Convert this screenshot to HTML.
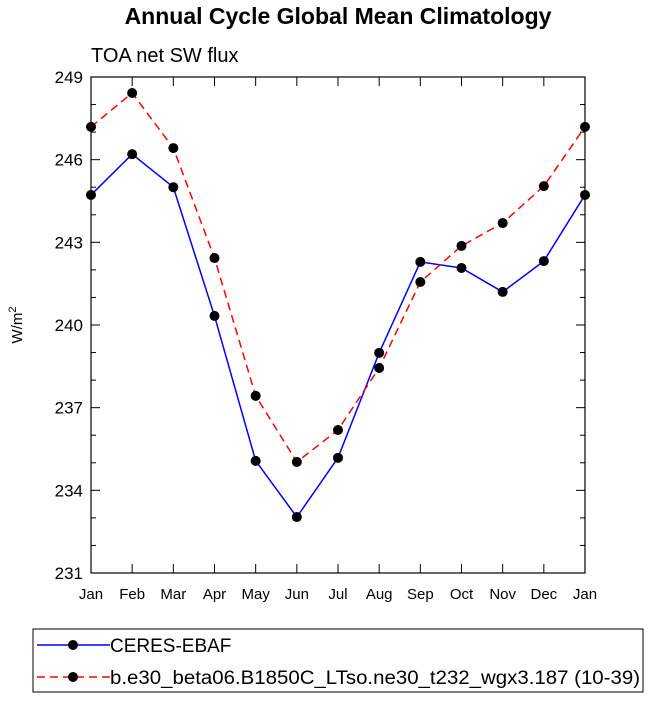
<!DOCTYPE html>
<html><head><meta charset="utf-8"><style>
body{margin:0;background:#fff;font-family:"Liberation Sans",sans-serif}
</style></head><body>
<svg id="c" width="649" height="701" xmlns="http://www.w3.org/2000/svg"></svg>
<script>
const months=["Jan","Feb","Mar","Apr","May","Jun","Jul","Aug","Sep","Oct","Nov","Dec","Jan"];
const ceres=[244.72,246.2,245.0,240.33,235.07,233.03,235.18,238.99,242.29,242.07,241.2,242.32,244.72];
const model=[247.19,248.42,246.42,242.43,237.43,235.03,236.19,238.44,241.56,242.87,243.7,245.04,247.19];
const yTicks=[231,234,237,240,243,246,249];
const L=91,R=585,T=77,B=573,ymin=231,ymax=249;
const X=i=>L+i*(R-L)/12, Y=v=>B-(v-ymin)/(ymax-ymin)*(B-T);
const s=document.getElementById('c'),NS="http://www.w3.org/2000/svg";
function el(t,a,txt){const e=document.createElementNS(NS,t);for(const k in a)e.setAttribute(k,a[k]);if(txt!=null)e.textContent=txt;s.appendChild(e);return e;}
let e;
e=el('text',{x:338,y:24,'text-anchor':'middle','font-size':23,'font-weight':'bold'},'Annual Cycle Global Mean Climatology');

e=el('text',{x:91,y:62,'font-size':20},'TOA net SW flux');

e=el('rect',{x:L,y:T,width:R-L,height:B-T,fill:'none',stroke:'#000','stroke-width':1.2});

yTicks.forEach((v,i)=>{const y=Y(v);
 e=el('line',{x1:L,x2:L+9,y1:y,y2:y,stroke:'#000'});
 e=el('line',{x1:R,x2:R-9,y1:y,y2:y,stroke:'#000'});
 e=el('text',{x:L-8,y:y+6,'text-anchor':'end','font-size':17},v);
 if(i<yTicks.length-1)for(let m=1;m<3;m++){const ym=Y(v+m);
  e=el('line',{x1:L,x2:L+5,y1:ym,y2:ym,stroke:'#000'});
  e=el('line',{x1:R,x2:R-5,y1:ym,y2:ym,stroke:'#000'});}
});
months.forEach((m,i)=>{const x=X(i);
 e=el('line',{x1:x,x2:x,y1:B,y2:B-9,stroke:'#000'});
 e=el('line',{x1:x,x2:x,y1:T,y2:T+9,stroke:'#000'});
 e=el('text',{x:x,y:B+26,'text-anchor':'middle','font-size':15},m);
});
e=el('text',{transform:'translate(22,325) rotate(-90)','text-anchor':'middle','font-size':15},'');
e.innerHTML='W/m<tspan dy="-6" font-size="11">2</tspan>';

function series(vals,col,dash,name){
 e=el('polyline',{points:vals.map((v,i)=>X(i)+','+Y(v)).join(' '),fill:'none',stroke:col,'stroke-width':1.5,'stroke-dasharray':dash});
 
 vals.forEach((v,i)=>{e=el('circle',{cx:X(i),cy:Y(v),r:5,fill:'#000'});});
}
series(ceres,'#00f','','ceres');
series(model,'#f00','8,5','model');
e=el('rect',{x:33,y:629,width:610,height:63,fill:'none',stroke:'#000'});

e=el('line',{x1:37,x2:110,y1:645,y2:645,stroke:'#00f','stroke-width':1.5});
e=el('circle',{cx:73,cy:645,r:5});
e=el('text',{x:110,y:652,'font-size':19},'CERES-EBAF');
e=el('line',{x1:37,x2:110,y1:677,y2:677,stroke:'#f00','stroke-width':1.5,'stroke-dasharray':'8,5'});
e=el('circle',{cx:73,cy:677,r:5});
e=el('text',{x:110,y:684,'font-size':19,textLength:530,lengthAdjust:'spacingAndGlyphs'},'b.e30_beta06.B1850C_LTso.ne30_t232_wgx3.187 (10-39)');
</script>
</body></html>
